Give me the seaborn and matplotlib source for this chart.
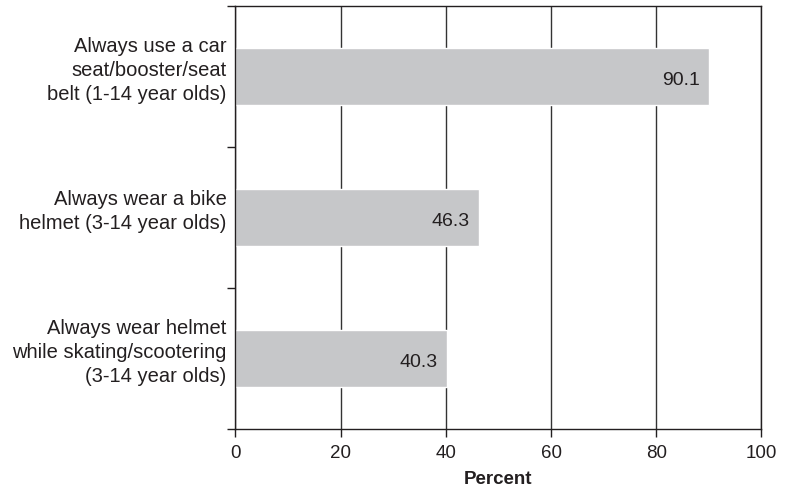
import pandas as pd
import matplotlib.pyplot as plt
import matplotlib.transforms as mtransforms
import seaborn as sns
from matplotlib.ticker import FixedLocator

# Datos
categorias = [
    "Always use a car\nseat/booster/seat\nbelt (1-14 year olds)",
    "Always wear a bike\nhelmet (3-14 year olds)",
    "Always wear helmet\nwhile skating/scootering\n(3-14 year olds)",
]
porcentajes = [90.1, 46.3, 40.3]
xticks = [0, 20, 40, 60, 80, 100]

df = pd.DataFrame({"categoria": categorias, "pct": porcentajes})

sns.set_style("white")
plt.rcParams["font.family"] = ["Liberation Sans", "DejaVu Sans"]
negro = "#231f20"

fig = plt.figure(figsize=(7.86, 4.89), dpi=100)
ax = fig.add_axes([0.2996, 0.1207, 0.9688 - 0.2996, 0.9857 - 0.1207])

sns.barplot(data=df, x="pct", y="categoria", orient="h", color="#c6c7c9",
            saturation=1, width=0.4, ax=ax)

# Etiquetas de valor dentro de la barra
for i, v in enumerate(porcentajes):
    ax.annotate(f"{v:.1f}", (v, i), xytext=(-7, -2), textcoords="offset points",
                ha="right", va="center", fontsize=14, color=negro)

ax.set_xlim(0, 100)
ax.set_ylim(2.5, -0.5)
ax.set_xticks(xticks)
ax.set_xticklabels([str(t) for t in xticks], fontsize=13.5, color=negro)
ax.set_xlabel("Percent", fontsize=13.5, fontweight="bold", color=negro, labelpad=6)
ax.set_ylabel("")

# Etiquetas de categoría un poco por encima del centro de la barra
ax.set_yticks(range(len(categorias)))
ax.set_yticklabels([""] * len(categorias))
trans = mtransforms.blended_transform_factory(ax.transAxes, ax.transData) + \
    mtransforms.ScaledTranslation(-9 / 100, 7 / 100, fig.dpi_scale_trans)
for i, cat in enumerate(categorias):
    ax.text(0, i, cat, transform=trans, ha="right", va="center", ma="right",
            fontsize=14.5, color=negro, linespacing=1.33)

ax.tick_params(axis="y", which="major", length=0)
ax.yaxis.set_minor_locator(FixedLocator([-0.5, 0.5, 1.5, 2.5]))
ax.tick_params(axis="y", which="minor", length=6, width=1, color=negro, direction="out", left=True)
ax.tick_params(axis="x", which="major", length=6, width=1, color=negro, direction="out", bottom=True, pad=5)

ax.xaxis.grid(True, color="#333333", linewidth=1)
ax.set_axisbelow(True)

for s in ["left", "bottom", "top", "right"]:
    ax.spines[s].set_visible(True)
    ax.spines[s].set_color(negro)
    ax.spines[s].set_linewidth(1)

fig.savefig("out.png", dpi=100)
